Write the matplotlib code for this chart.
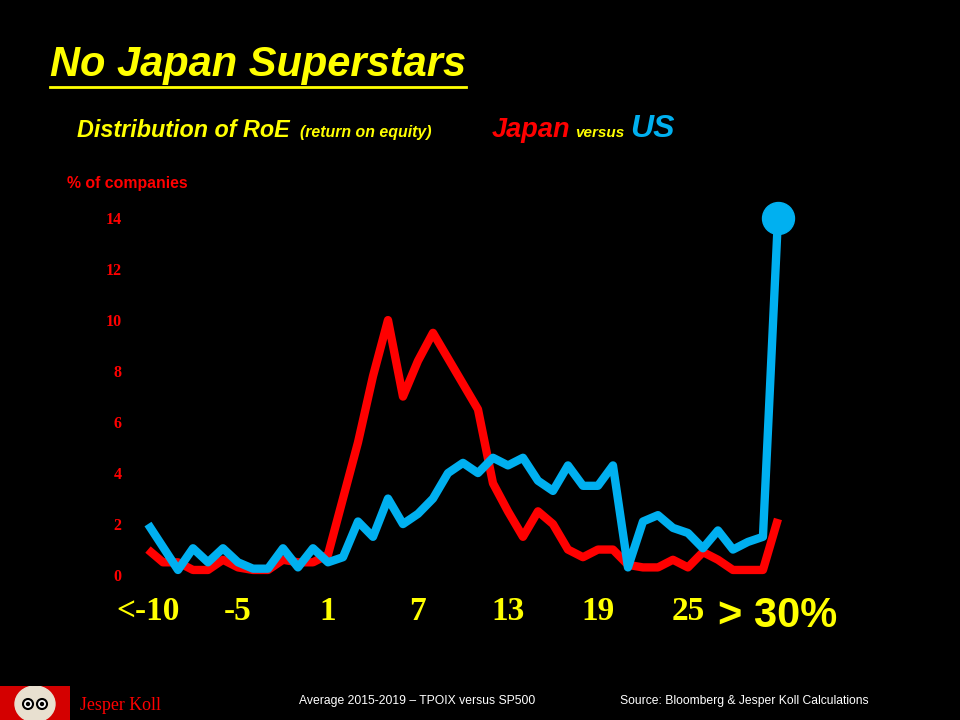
import matplotlib
matplotlib.use("Agg")
import matplotlib.pyplot as plt
from matplotlib.lines import Line2D
from matplotlib.patches import Ellipse, Circle

# --- DATA: RoE buckets (<-10, -10 ... 30, >30) ---
tick_pos = [0, 6, 12, 18, 24, 30, 36, 42]
tick_labels = ['<-10', '-5', '1', '7', '13', '19', '25', '> 30%']
y_ticks = [0, 2, 4, 6, 8, 10, 12, 14]

japan = [1.0, 0.5, 0.5, 0.2, 0.2, 0.6, 0.3, 0.2, 0.2, 0.6,
         0.5, 0.5, 0.8, 3.0, 5.2, 7.8, 10.0, 7.0, 8.4, 9.5,
         8.5, 7.5, 6.5, 3.6, 2.5, 1.5, 2.5, 2.0, 1.0, 0.7,
         1.0, 1.0, 0.4, 0.3, 0.3, 0.6, 0.3, 0.9, 0.6, 0.2,
         0.2, 0.2, 2.2]
us = [2.0, 1.1, 0.2, 1.05, 0.5, 1.05, 0.5, 0.25, 0.25, 1.05,
      0.3, 1.05, 0.5, 0.7, 2.1, 1.5, 3.0, 2.0, 2.4, 3.0,
      4.0, 4.4, 4.0, 4.6, 4.3, 4.6, 3.7, 3.3, 4.3, 3.5,
      3.5, 4.3, 0.3, 2.1, 2.35, 1.85, 1.65, 1.05, 1.75, 1.0,
      1.3, 1.5, 14.0]

RED = '#FF0000'
BLUE = '#00B0F0'
YELLOW = '#FFFF00'

fig = plt.figure(figsize=(9.6, 7.2), dpi=100, facecolor='black')

# axes placed in pixel terms: x 130..800, y 200..585
ax = fig.add_axes([130 / 960, 135 / 720, 670 / 960, 385 / 720])
ax.set_facecolor('black')
x = list(range(len(japan)))
ax.plot(x, japan, color=RED, linewidth=6, solid_joinstyle='round',
        solid_capstyle='butt', zorder=2)
ax.plot(x, us, color=BLUE, linewidth=6, solid_joinstyle='round',
        solid_capstyle='butt', zorder=3)
ax.plot(x[-1], us[-1], 'o', color=BLUE, markersize=23, zorder=4)

ax.set_xlim(-1.2, 43.47)
ax.set_ylim(-0.39, 14.71)
for s in ax.spines.values():
    s.set_visible(False)
ax.tick_params(length=0)

ax.set_yticks(y_ticks)
ax.set_yticklabels([str(v) for v in y_ticks], color=RED, fontsize=11.5,
                   fontweight='bold', family='Liberation Serif')
ax.tick_params(axis='y', pad=6)

ax.set_xticks(tick_pos)
ax.set_xticklabels(tick_labels, color=YELLOW, fontsize=24,
                   fontweight='bold', family='Liberation Serif')
ax.tick_params(axis='x', pad=8)
last = ax.get_xticklabels()[-1]
last.set_fontfamily('Liberation Sans')
last.set_fontsize(30)

# --- Titles ---
title = fig.text(50 / 960, 1 - 76 / 720, 'No Japan Superstars', color=YELLOW,
                 fontsize=30, fontweight='bold', style='italic',
                 family='Liberation Sans', va='baseline')
fig.canvas.draw()
bb = title.get_window_extent()
fig.add_artist(Line2D([bb.x0 / 960, bb.x1 / 960], [1 - 87 / 720, 1 - 87 / 720],
                      color=YELLOW, linewidth=2))

sub_y = 1 - 137 / 720
fig.text(77 / 960, sub_y, 'Distribution of RoE', color=YELLOW, fontsize=16.8,
         fontweight='bold', style='italic', family='Liberation Sans', va='baseline')
fig.text(300 / 960, sub_y, '(return on equity)', color=YELLOW, fontsize=11.4,
         fontweight='bold', style='italic', family='Liberation Sans', va='baseline')
fig.text(492 / 960, sub_y, 'Japan', color=RED, fontsize=19.5,
         fontweight='bold', style='italic', family='Liberation Sans', va='baseline')
fig.text(575 / 960, sub_y, 'versus', color=YELLOW, fontsize=11,
         fontweight='bold', style='italic', family='Liberation Sans', va='baseline')
fig.text(630 / 960, sub_y, 'US', color=BLUE, fontsize=23,
         fontweight='bold', style='italic', family='Liberation Sans', va='baseline')

fig.text(67 / 960, 1 - 188 / 720, '% of companies', color=RED, fontsize=11.4,
         fontweight='bold', family='Liberation Sans', va='baseline')

# --- Footer ---
fig.text(299 / 960, 1 - 704 / 720, 'Average 2015-2019 \u2013 TPOIX versus SP500',
         color='white', fontsize=8.7, family='Liberation Sans', va='baseline')
fig.text(620 / 960, 1 - 704 / 720, 'Source: Bloomberg & Jesper Koll Calculations',
         color='white', fontsize=8.7, family='Liberation Sans', va='baseline')
fig.text(80 / 960, 1 - 710 / 720, 'Jesper Koll', color=RED, fontsize=12.9,
         family='Liberation Serif', va='baseline')

# small daruma logo
logo = fig.add_axes([0, 0, 70 / 960, 34 / 720])
logo.set_xlim(0, 70)
logo.set_ylim(0, 34)
logo.set_facecolor('#D40000')
logo.set_xticks([])
logo.set_yticks([])
for s in logo.spines.values():
    s.set_visible(False)
logo.add_patch(Ellipse((35, 16), 40, 36, color='#E8E0D0'))
logo.add_patch(Circle((28, 16), 5, color='white', ec='black', lw=1.5))
logo.add_patch(Circle((42, 16), 5, color='white', ec='black', lw=1.5))
logo.add_patch(Circle((28, 16), 1.5, color='black'))
logo.add_patch(Circle((42, 16), 1.5, color='black'))

fig.savefig('out.png', dpi=100, facecolor='black')
